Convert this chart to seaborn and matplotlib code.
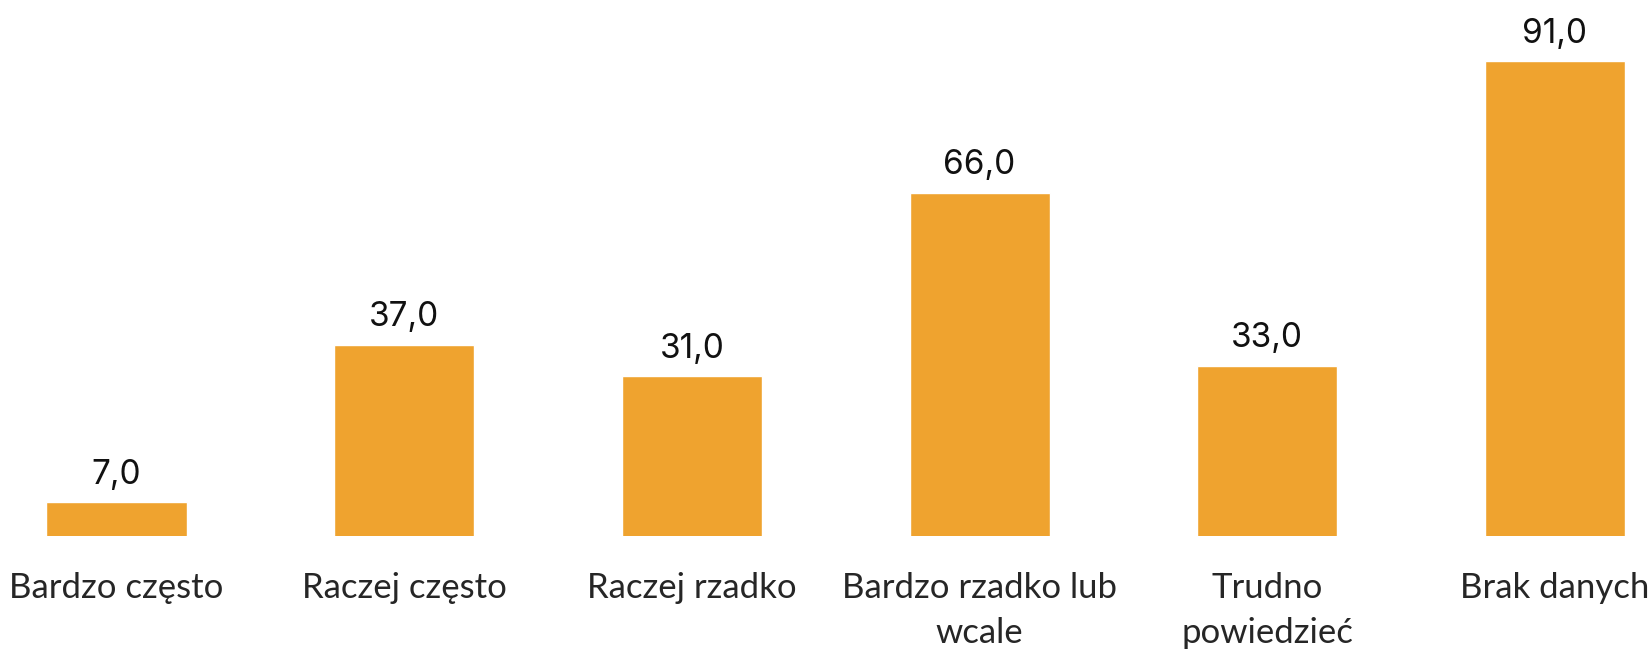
import matplotlib
matplotlib.use("Agg")
import matplotlib.pyplot as plt
import seaborn as sns
import pandas as pd

categories = ["Bardzo często", "Raczej często", "Raczej rzadko",
              "Bardzo rzadko lub\nwcale", "Trudno\npowiedzieć", "Brak danych"]
values = [7.0, 37.0, 31.0, 66.0, 33.0, 91.0]

df = pd.DataFrame({"cat": categories, "val": values})

sns.set_style("white")
fig = plt.figure(figsize=(16.51, 6.49), dpi=100)
ax = fig.add_axes([0, 113 / 649, 1, 536 / 649])
sns.barplot(data=df, x="cat", y="val", color="#EFA32F", width=0.487,
            saturation=1, ax=ax)

ax.set_xlim(-0.405, 5.334)
ax.set_ylim(0.6, 0.6 + 536 / 5.25)
for s in ax.spines.values():
    s.set_visible(False)
ax.set_yticks([])
ax.set_xlabel("")
ax.set_ylabel("")
ax.tick_params(axis="x", length=0, pad=26)
for t in ax.get_xticklabels():
    t.set_fontfamily("Lato")
    t.set_fontsize(25)
    t.set_linespacing(1.5)
    t.set_verticalalignment("top")

for p, v in zip(ax.patches, values):
    ax.annotate(f"{v:.1f}".replace(".", ","),
                (p.get_x() + p.get_width() / 2, p.get_height()),
                xytext=(0, 8.5), textcoords="offset points",
                ha="center", va="bottom", fontsize=24,
                fontfamily="Inter", color="#111111")

fig.savefig("out.png", dpi=100)
